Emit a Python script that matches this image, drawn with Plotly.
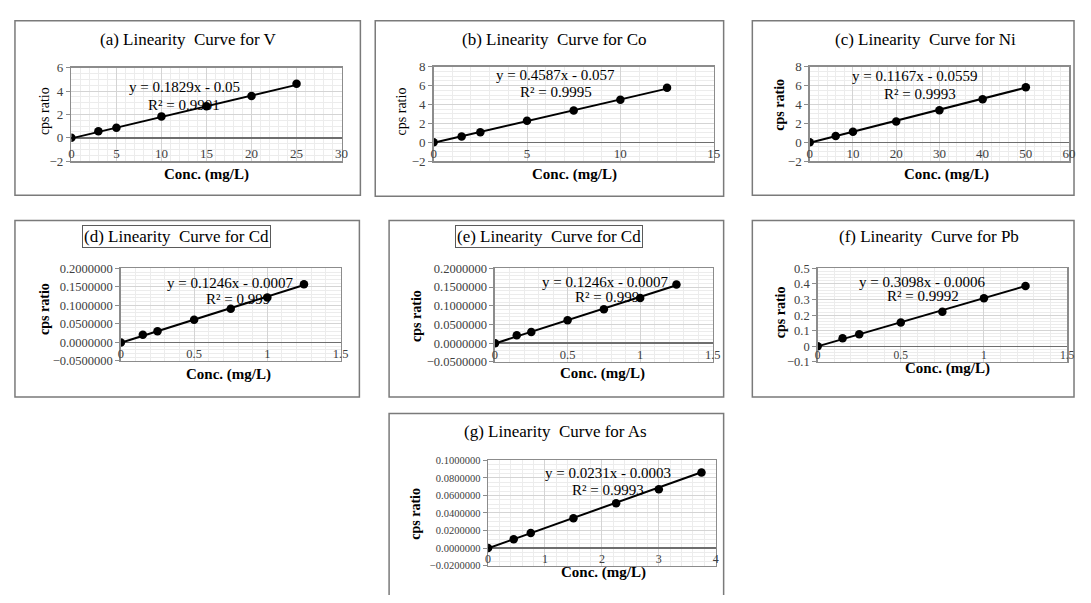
import plotly.graph_objects as go

# page body keeps an 8px margin, so the figure is made 16px smaller
OFF = 8
W, H = 1091 - 2 * OFF, 603 - 2 * OFF

# ---------------- data ----------------
v_conc = [0, 3, 5, 10, 15, 20, 25]
v_cps = [0, 0.55, 0.85, 1.83, 2.7, 3.58, 4.62]

co_conc = [0, 1.5, 2.5, 5, 7.5, 10, 12.5]
co_cps = [0, 0.62, 1.07, 2.27, 3.37, 4.5, 5.77]

ni_conc = [0, 6, 10, 20, 30, 40, 50]
ni_cps = [0, 0.66, 1.1, 2.2, 3.38, 4.55, 5.83]

cd_conc = [0, 0.15, 0.25, 0.5, 0.75, 1.0, 1.25]
cd_cps = [0, 0.021, 0.030, 0.061, 0.091, 0.121, 0.157]

pb_conc = [0, 0.15, 0.25, 0.5, 0.75, 1.0, 1.25]
pb_cps = [0, 0.051, 0.078, 0.152, 0.222, 0.309, 0.387]

as_conc = [0, 0.45, 0.75, 1.5, 2.25, 3.0, 3.75]
as_cps = [0, 0.010, 0.017, 0.034, 0.051, 0.067, 0.086]

titles = ["(a) Linearity  Curve for V", "(b) Linearity  Curve for Co",
          "(c) Linearity  Curve for Ni", "(d) Linearity  Curve for Cd",
          "(e) Linearity  Curve for Cd", "(f) Linearity  Curve for Pb",
          "(g) Linearity  Curve for As"]
equations = ["y = 0.1829x - 0.05", "y = 0.4587x - 0.057", "y = 0.1167x - 0.0559",
             "y = 0.1246x - 0.0007", "y = 0.1246x - 0.0007", "y = 0.3098x - 0.0006",
             "y = 0.0231x - 0.0003"]
r2_labels = ["R² = 0.9901", "R² = 0.9995", "R² = 0.9993", "R² = 0.999",
             "R² = 0.999", "R² = 0.9992", "R² = 0.9993"]
slopes = [0.1829, 0.4587, 0.1167, 0.1246, 0.1246, 0.3098, 0.0231]
intercepts = [-0.05, -0.057, -0.0559, -0.0007, -0.0007, -0.0006, -0.0003]

series = [(v_conc, v_cps), (co_conc, co_cps), (ni_conc, ni_cps), (cd_conc, cd_cps),
          (cd_conc, cd_cps), (pb_conc, pb_cps), (as_conc, as_cps)]

# ---------------- layout (pixel geometry, page coordinates) ----------------
plot_rects = [(69, 62, 342, 158), (435, 61, 718, 158), (815, 61, 1077, 158),
              (119, 268, 341, 363), (497, 268, 717, 364), (823, 268, 1075, 364),
              (490, 465, 720, 573)]
panel_boxes = [(12, 14, 361, 193), (376, 14, 728, 194), (757, 14, 1082, 193),
               (12, 219, 360, 400), (390, 219, 728, 400), (757, 219, 1082, 400),
               (390, 417, 728, 620)]
title_pos = [(187, 33), (557, 33), (932, 33), (175, 235), (552, 235), (935, 235), (558, 435)]
title_boxed = [False, False, False, True, True, False, False]
xtitle_pos = [(206, 172), (577, 172), (953, 172), (228, 377), (606, 376), (954, 371), (607, 580)]
ytitle_pos = [(42, 107), (403, 107), (785, 100), (42, 310), (417, 317), (785, 313), (417, 520)]
ytitle_bold = [False, False, True, True, True, True, True]
eq_pos = [(0.418, 0.79, 0.418, 0.60), (0.435, 0.907, 0.437, 0.73),
          (0.404, 0.897, 0.426, 0.71), (0.498, 0.84, 0.534, 0.674),
          (0.505, 0.854, 0.514, 0.69), (0.417, 0.854, 0.424, 0.70),
          (0.526, 0.88, 0.526, 0.72)]
x_ranges = [(0, 30, 5), (0, 15, 5), (0, 60, 10), (0, 1.5, 0.5), (0, 1.5, 0.5),
            (0, 1.5, 0.5), (0, 4, 1)]
y_ranges = [(-2, 6, 2, None), (-2, 8, 2, None), (-2, 8, 2, None),
            (-0.05, 0.2, 0.05, ".7f"), (-0.05, 0.2, 0.05, ".7f"),
            (-0.1, 0.5, 0.1, None), (-0.02, 0.1, 0.02, ".7f")]
ytick_size = [13, 13, 13, 12.5, 12.5, 12.5, 10.5]
xtick_size = [13, 13, 13, 12.5, 12.5, 11.5, 12]

FONT = "Liberation Serif, Times New Roman, serif"


def px(x):
    return (x - OFF) / W


def py(y):
    return 1 - (y - OFF) / H


fig = go.Figure()
shapes = []
annotations = []
layout_axes = {}

for i in range(7):
    n = "" if i == 0 else str(i + 1)
    xa, ya = "x" + n, "y" + n
    cx, cy = series[i]
    x_end = max(cx)
    fig.add_trace(go.Scatter(
        x=[0, x_end], y=[intercepts[i], slopes[i] * x_end + intercepts[i]],
        mode="lines", line=dict(color="black", width=2), xaxis=xa, yaxis=ya,
        showlegend=False, hoverinfo="skip"))
    fig.add_trace(go.Scatter(
        x=cx, y=cy, mode="markers", marker=dict(color="black", size=8.5),
        xaxis=xa, yaxis=ya, showlegend=False))

    l, t, r, b = plot_rects[i]
    x0, x1, xd = x_ranges[i]
    y0, y1, yd, yfmt = y_ranges[i]
    layout_axes["xaxis" + n] = dict(
        domain=[px(l), px(r)], anchor=ya, range=[x0, x1], dtick=xd, tick0=0,
        showgrid=True, gridcolor="#d4d4d4", gridwidth=1,
        minor=dict(showgrid=True, gridcolor="#ececec", nticks=5),
        showline=True, mirror=True, linecolor="#8c8c8c", linewidth=1.5,
        zeroline=False, ticks="", ticklabelposition="inside",
        ticklabeloverflow="allow",
        tickfont=dict(family=FONT, size=xtick_size[i], color="#404040"),
        fixedrange=True)
    layout_axes["yaxis" + n] = dict(
        domain=[py(b), py(t)], anchor=xa, range=[y0, y1], dtick=yd, tick0=0,
        showgrid=True, gridcolor="#d4d4d4", gridwidth=1,
        minor=dict(showgrid=True, gridcolor="#ececec", nticks=5),
        showline=True, mirror=True, linecolor="#8c8c8c", linewidth=1.5,
        zeroline=True, zerolinecolor="#6e6e6e", zerolinewidth=1.5,
        ticks="outside", ticklen=4, tickcolor="#8c8c8c",
        tickformat=yfmt if yfmt else None,
        tickfont=dict(family=FONT, size=ytick_size[i], color="#404040"),
        fixedrange=True)

    pl, pt, pr, pb = panel_boxes[i]
    shapes.append(dict(type="rect", xref="paper", yref="paper",
                       x0=px(pl), x1=px(pr), y0=py(pb), y1=py(pt),
                       line=dict(color="#7a7a7a", width=1.5), layer="below"))
    tx, ty = title_pos[i]
    ann = dict(xref="paper", yref="paper", x=px(tx), y=py(ty),
               text=titles[i], showarrow=False, xanchor="center", yanchor="middle",
               font=dict(family=FONT, size=17, color="black"))
    if title_boxed[i]:
        ann.update(bordercolor="#5a5a5a", borderwidth=1, borderpad=1)
    annotations.append(ann)
    ax_, ay_ = xtitle_pos[i]
    annotations.append(dict(xref="paper", yref="paper", x=px(ax_), y=py(ay_),
                            text="<b>Conc. (mg/L)</b>", showarrow=False,
                            xanchor="center", yanchor="middle",
                            font=dict(family=FONT, size=15, color="black")))
    yx, yy = ytitle_pos[i]
    ytxt = "<b>cps ratio</b>" if ytitle_bold[i] else "cps ratio"
    annotations.append(dict(xref="paper", yref="paper", x=px(yx), y=py(yy),
                            text=ytxt, showarrow=False, textangle=-90,
                            xanchor="center", yanchor="middle",
                            font=dict(family=FONT, size=14, color="black")))
    ex, ey, rx, ry = eq_pos[i]
    annotations.append(dict(xref=xa + " domain", yref=ya + " domain", x=ex, y=ey,
                            text=equations[i], showarrow=False,
                            xanchor="center", yanchor="middle",
                            font=dict(family=FONT, size=15, color="black")))
    annotations.append(dict(xref=xa + " domain", yref=ya + " domain", x=rx, y=ry,
                            text=r2_labels[i], showarrow=False,
                            xanchor="center", yanchor="middle",
                            font=dict(family=FONT, size=15, color="black")))

fig.update_layout(
    width=W, height=H, margin=dict(l=0, r=0, t=0, b=0),
    paper_bgcolor="white", plot_bgcolor="white",
    shapes=shapes, annotations=annotations, showlegend=False,
    **layout_axes)

fig.write_html("out.html", config={"displayModeBar": False, "staticPlot": True})
